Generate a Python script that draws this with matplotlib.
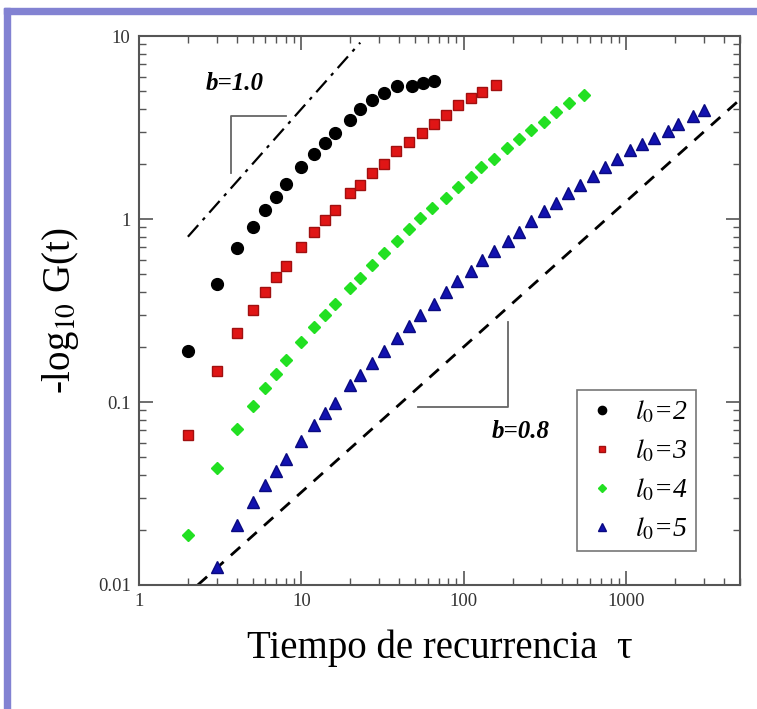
import numpy as np
import matplotlib
matplotlib.use('Agg')
import matplotlib.pyplot as plt
from matplotlib.ticker import LogLocator, NullFormatter, FixedFormatter, FixedLocator

plt.rcParams['font.family'] = ['Liberation Serif', 'DejaVu Serif']
plt.rcParams['mathtext.fontset'] = 'stix'

# data
black_x = [2, 3, 4, 5, 6, 7, 8, 10, 12, 14, 16, 20, 23, 27, 32, 39, 48, 56, 65]
black_y = [0.19, 0.44, 0.69, 0.91, 1.12, 1.32, 1.55, 1.93, 2.27, 2.61, 2.95, 3.47, 4.0,
           4.47, 4.9, 5.35, 5.33, 5.55, 5.7]

red_x = [2, 3, 4, 5, 6, 7, 8, 10, 12, 14, 16, 20, 23, 27, 32, 38, 46, 55, 65, 78, 92,
         110, 130, 157]
red_y = [0.066, 0.148, 0.239, 0.32, 0.40, 0.484, 0.556, 0.706, 0.852, 0.99, 1.12, 1.39,
         1.53, 1.78, 2.01, 2.36, 2.64, 2.96, 3.3, 3.7, 4.2, 4.56, 4.97, 5.4]

green_x = [2, 3, 4, 5, 6, 7, 8, 10, 12, 14, 16, 20, 23, 27, 32, 39, 46, 54, 64, 78, 92,
           110, 128, 154, 184, 217, 258, 310, 370, 446, 552]
green_y = [0.0188, 0.0434, 0.071, 0.0955, 0.12, 0.142, 0.17, 0.214, 0.256, 0.30, 0.343,
           0.42, 0.474, 0.56, 0.655, 0.76, 0.88, 1.01, 1.15, 1.31, 1.50, 1.69, 1.92,
           2.14, 2.43, 2.73, 3.06, 3.40, 3.86, 4.29, 4.76]

blue_x = [3, 4, 5, 6, 7, 8, 10, 12, 14, 16, 20, 23, 27, 32, 39, 46, 54, 65, 78, 91, 110,
          130, 154, 186, 218, 259, 309, 370, 437, 516, 620, 734, 877, 1050, 1240, 1475,
          1795, 2090, 2560, 3010]
blue_y = [0.0126, 0.0213, 0.0285, 0.0352, 0.042, 0.0486, 0.0615, 0.0749, 0.0867, 0.099,
          0.124, 0.14, 0.163, 0.19, 0.225, 0.26, 0.299, 0.343, 0.40, 0.46, 0.52, 0.60,
          0.67, 0.76, 0.85, 0.97, 1.10, 1.23, 1.38, 1.53, 1.72, 1.92, 2.14, 2.38, 2.57,
          2.76, 3.04, 3.30, 3.65, 3.94]

labels = [r'$l_{\mathit{0}}$=2', r'$l_{\mathit{0}}$=3', r'$l_{\mathit{0}}$=4',
          r'$l_{\mathit{0}}$=5']

# guide lines b=1.0 and b=0.8
fit10_x = [2, 23]
fit10_y = [0.8, 9.2]
fit08_x = [2.3, 5000]
fit08_y = [0.01, 4.5]

# slope triangles
tri10_x = [3.7, 3.7, 8.0]
tri10_y = [1.78, 3.65, 3.65]
tri08_x = [52, 187, 187]
tri08_y = [0.094, 0.094, 0.274]

xticks = [1, 10, 100, 1000]
xticklabels = ['1', '10', '100', '1000']
yticks = [0.01, 0.1, 1, 10]
yticklabels = ['0.01', '0.1', '1', '10']

fig = plt.figure(figsize=(7.57, 7.09), dpi=100)
ax = fig.add_axes([0.1836, 0.1749, 0.7939, 0.7743])

# purple frame at top and left
frame_col = '#8282d2'
fig.patches.append(plt.Rectangle((0.0053, 0.9803), 0.995, 0.0085, transform=fig.transFigure,
                                 color=frame_col, zorder=0))
fig.patches.append(plt.Rectangle((0.0053, 0.0), 0.0080, 0.9888, transform=fig.transFigure,
                                 color=frame_col, zorder=0))

ax.plot(tri10_x, tri10_y, color='#666666', lw=1.3)
ax.plot(tri08_x, tri08_y, color='#666666', lw=1.3)
ax.plot(fit10_x, fit10_y, color='black', lw=1.6, dashes=[7, 3, 1.5, 3])
ax.plot(fit08_x, fit08_y, color='black', lw=2.0, dashes=[4.5, 3.5])

ax.plot(black_x, black_y, 'o', color='black', ms=8.5, label=labels[0])
ax.plot(red_x, red_y, 's', color='#e01515', mec='#a01010', ms=7, label=labels[1])
ax.plot(green_x, green_y, 'D', color='#22e022', mec='#22e022', ms=6.5, label=labels[2])
ax.plot(blue_x, blue_y, '^', color='#1212b0', mec='#0a0a80', ms=8, label=labels[3])

ax.text(3.86, 5.5, 'b=1.0', fontsize=18, fontweight='bold', fontstyle='italic',
        ha='center', va='center')
ax.text(225, 0.0686, 'b=0.8', fontsize=18, fontweight='bold', fontstyle='italic',
        ha='center', va='center')

ax.set_xscale('log')
ax.set_yscale('log')
ax.set_xlim(1, 5000)
ax.set_ylim(0.01, 10)

ax.xaxis.set_major_locator(FixedLocator(xticks))
ax.xaxis.set_major_formatter(FixedFormatter(xticklabels))
ax.yaxis.set_major_locator(FixedLocator(yticks))
ax.yaxis.set_major_formatter(FixedFormatter(yticklabels))
ax.xaxis.set_minor_locator(LogLocator(base=10, subs=np.arange(2, 10)))
ax.yaxis.set_minor_locator(LogLocator(base=10, subs=np.arange(2, 10)))
ax.xaxis.set_minor_formatter(NullFormatter())
ax.yaxis.set_minor_formatter(NullFormatter())

ax.tick_params(which='both', direction='in', top=True, right=True, colors='#555555',
               labelcolor='#333333', labelsize=13.5)
ax.tick_params(which='major', length=10, width=1.2, pad=6)
ax.tick_params(which='minor', length=5, width=1.0)
for s in ax.spines.values():
    s.set_color('#555555')
    s.set_linewidth(1.5)

ax.set_xlabel('Tiempo de recurrencia  τ', fontsize=28, labelpad=14)
ax.set_ylabel('-log$_{10}$ G(t)', fontsize=28, labelpad=12)

leg = ax.legend(loc='lower right', bbox_to_anchor=(0.927, 0.062), borderaxespad=0,
                prop={'size': 20, 'style': 'italic'}, markerscale=0.7, fancybox=False,
                handlelength=1.2, handletextpad=0.6, labelspacing=0.45,
                borderpad=0.3)
leg.get_frame().set_edgecolor('#555555')
leg.get_frame().set_linewidth(1.2)

plt.savefig('out.png', dpi=100)
